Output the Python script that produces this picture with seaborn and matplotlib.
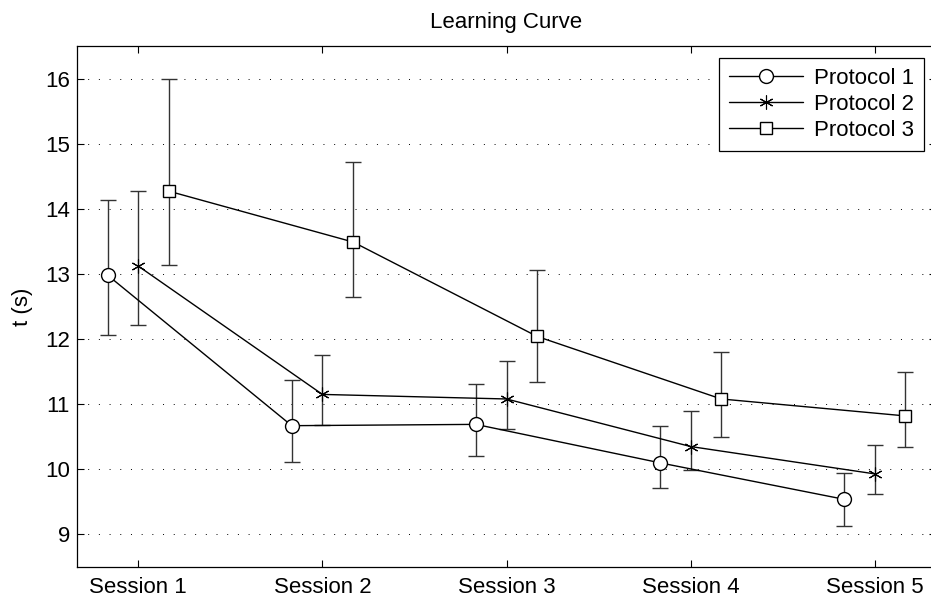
import numpy as np
import matplotlib
matplotlib.use("Agg")
import matplotlib.pyplot as plt
import seaborn as sns

sessions = ["Session 1", "Session 2", "Session 3", "Session 4", "Session 5"]
protocols = ["Protocol 1", "Protocol 2", "Protocol 3"]

# mean and lower/upper ends of the error bars
p1_mean = [12.98, 10.67, 10.69, 10.10, 9.54]
p1_low = [12.06, 10.11, 10.21, 9.72, 9.13]
p1_high = [14.14, 11.37, 11.31, 10.67, 9.95]

p2_mean = [13.12, 11.15, 11.08, 10.35, 9.93]
p2_low = [12.21, 10.68, 10.62, 9.99, 9.62]
p2_high = [14.28, 11.76, 11.67, 10.90, 10.38]

p3_mean = [14.27, 13.49, 12.04, 11.08, 10.82]
p3_low = [13.14, 12.64, 11.34, 10.50, 10.34]
p3_high = [16.00, 14.72, 13.06, 11.80, 11.50]

sns.set_style("white", {"axes.edgecolor": "black", "xtick.color": "black",
                        "ytick.color": "black", "text.color": "black",
                        "axes.labelcolor": "black"})
plt.rcParams["font.family"] = ["Liberation Sans", "DejaVu Sans"]
plt.rcParams["font.size"] = 16

fig = plt.figure(figsize=(9.31, 6.02), dpi=100)
ax = fig.add_axes([77 / 931, 35 / 602, 859 / 931, 521 / 602])

series = [(p1_mean, p1_low, p1_high), (p2_mean, p2_low, p2_high), (p3_mean, p3_low, p3_high)]
offsets = [-1 / 6, 0, 1 / 6]
markers = ["o", (6, 2, 0), "s"]
msizes = [10, 10, 8.5]
mews = [1.0, 0.8, 1.0]

base = np.arange(1, len(sessions) + 1)
for name, (m, lo, hi), off, mk, ms, mw in zip(protocols, series, offsets, markers, msizes, mews):
    m = np.array(m)
    xs = base + off
    ax.errorbar(xs, m, yerr=[m - np.array(lo), np.array(hi) - m], fmt="none",
                ecolor="#333333", elinewidth=1.0, capsize=5.5, capthick=1.0, zorder=2)
    sns.lineplot(x=xs, y=m, ax=ax, color="black", linewidth=1.0, marker=mk,
                 markersize=ms, markerfacecolor="white", markeredgecolor="black",
                 markeredgewidth=mw, label=name, errorbar=None, zorder=3)

ax.set_xlim(2 / 3, 5 + 1 / 3)
ax.set_ylim(8.5, 16.5)
ax.set_xticks(base)
ax.set_xticklabels(sessions)
ax.set_yticks(range(9, 17))
ax.tick_params(direction="in", length=5, width=0.8, top=True, right=True,
               bottom=True, left=True, labelsize=16)
ax.tick_params(axis="x", pad=7)
ax.tick_params(axis="y", pad=5)
for sp in ax.spines.values():
    sp.set_linewidth(0.9)
    sp.set_color("black")

ax.yaxis.grid(True, linestyle=(0, (1, 10)), color="black", linewidth=0.7)
ax.xaxis.grid(False)
ax.set_axisbelow(True)

ax.set_xlabel("")
ax.set_ylabel("t (s)", fontsize=16, labelpad=9)
ax.set_title("Learning Curve", fontsize=16, pad=13)

leg = ax.legend(loc="upper right", bbox_to_anchor=(1 - 12 / 859, 1 - 12 / 521),
                borderaxespad=0, fancybox=False, framealpha=1, edgecolor="black",
                handlelength=3.3, handletextpad=0.5, labelspacing=0.22,
                borderpad=0.45, fontsize=16)
leg.get_frame().set_linewidth(0.9)

fig.savefig("out.png", dpi=100)
